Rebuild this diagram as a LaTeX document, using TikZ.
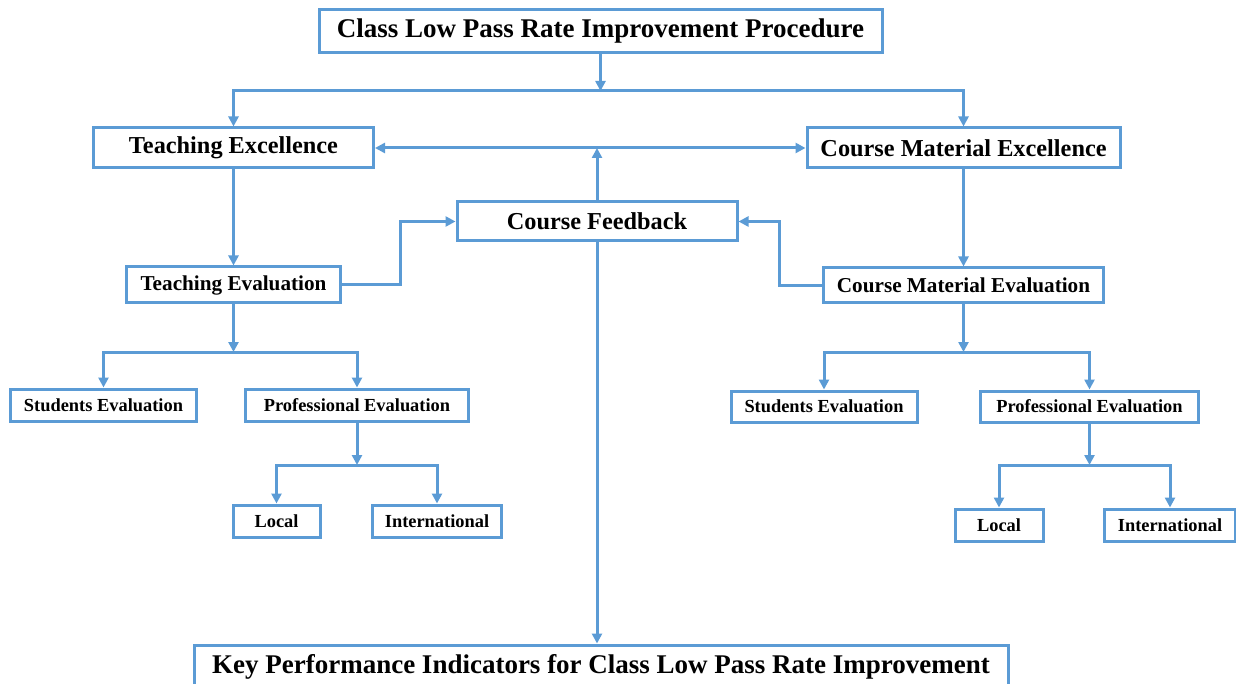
\documentclass[tikz,border=0pt]{standalone}
\usepackage{fontspec}
\setmainfont{Liberation Serif}
\usetikzlibrary{arrows.meta}
\definecolor{lineblue}{RGB}{91,155,213}
\begin{document}
\begin{tikzpicture}[x=1pt, y=-1pt, line width=3pt, >={Triangle[length=10pt,width=10pt]},
    box/.style={draw=lineblue, fill=white, inner sep=0pt},
    big/.style={font=\fontsize{27}{30}\selectfont\bfseries},
    mid/.style={font=\fontsize{24.3}{28}\selectfont\bfseries},
    sub/.style={font=\fontsize{21.2}{24}\selectfont\bfseries},
    sml/.style={font=\fontsize{18.4}{21}\selectfont\bfseries},
    arr/.style={->, draw=lineblue}]
  \useasboundingbox (0,0) rectangle (1236,684);
  % boxes
  \node[box, big, minimum width=563pt, minimum height=43pt] (title) at (600.5,31) {Class Low Pass Rate Improvement Procedure};
  \node[box, mid, minimum width=280pt, minimum height=40pt] (te) at (233.5,148) {Teaching Excellence};
  \node[box, mid, minimum width=313pt, minimum height=40pt] (cme) at (963.5,148) {Course Material Excellence};
  \node[box, mid, minimum width=280pt, minimum height=39pt] (cf) at (597,221.5) {Course Feedback};
  \node[box, sub, minimum width=214pt, minimum height=36pt] (tev) at (233.5,285) {Teaching Evaluation};
  \node[box, sub, minimum width=280pt, minimum height=35pt] (cmev) at (963.5,285.5) {Course Material Evaluation};
  \node[box, sml, minimum width=186pt, minimum height=32pt] (se1) at (103.5,405) {Students Evaluation};
  \node[box, sml, minimum width=223pt, minimum height=32pt] (pe1) at (357,405) {Professional Evaluation};
  \node[box, sml, minimum width=87pt, minimum height=32pt] (loc1) at (276.5,521) {Local};
  \node[box, sml, minimum width=129pt, minimum height=32pt] (int1) at (437,521) {International};
  \node[box, sml, minimum width=186pt, minimum height=31pt] (se2) at (824,406.5) {Students Evaluation};
  \node[box, sml, minimum width=218pt, minimum height=31pt] (pe2) at (1089.5,406.5) {Professional Evaluation};
  \node[box, sml, minimum width=88pt, minimum height=32pt] (loc2) at (999,525) {Local};
  \node[box, sml, minimum width=131pt, minimum height=32pt] (int2) at (1170,525) {International};
  \node[box, big, minimum width=814pt, minimum height=44pt] (kpi) at (601,667) {Key Performance Indicators for Class Low Pass Rate Improvement};
  % branch points
  \coordinate (topbus) at (600.5,91);
  \coordinate (mid) at (597,148);
  \coordinate (lbus) at (233.5,352);
  \coordinate (rbus) at (963.5,352);
  \coordinate (lbus2) at (357,465);
  \coordinate (rbus2) at (1089.5,465);
  % connectors
  \draw[arr] (title) -- (topbus);
  \draw[arr] (topbus) -| (te);
  \draw[arr] (topbus) -| (cme);
  \draw[arr, <->] (te) -- (cme);
  \draw[arr] (cf) -- (mid);
  \draw[arr] (te) -- (tev);
  \draw[arr] (cme) -- (cmev);
  \draw[arr] (tev.east) -- ++(58,0) |- (cf.west);
  \draw[arr] (cmev.west) -- ++(-43,0) |- (cf.east);
  \draw[arr] (cf.south) -- (cf.south |- kpi.north);
  \draw[arr] (tev) -- (lbus);
  \draw[arr] (lbus) -| (se1);
  \draw[arr] (lbus) -| (pe1);
  \draw[arr] (cmev) -- (rbus);
  \draw[arr] (rbus) -| (se2);
  \draw[arr] (rbus) -| (pe2);
  \draw[arr] (pe1) -- (lbus2);
  \draw[arr] (lbus2) -| (loc1);
  \draw[arr] (lbus2) -| (int1);
  \draw[arr] (pe2) -- (rbus2);
  \draw[arr] (rbus2) -| (loc2);
  \draw[arr] (rbus2) -| (int2);
\end{tikzpicture}
\end{document}
